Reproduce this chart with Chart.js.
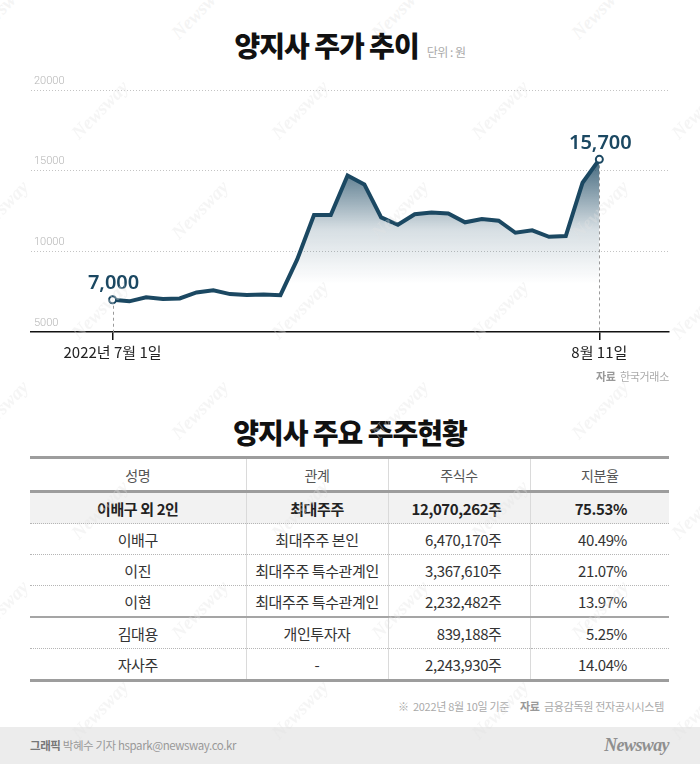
<!DOCTYPE html>
<html><head><meta charset="utf-8">
<script src="https://cdn.jsdelivr.net/npm/chart.js@4/dist/chart.umd.min.js"></script>
<style>
body{margin:0;width:700px;height:764px;background:#fff;position:relative;overflow:hidden;font-family:"Noto Sans CJK KR","Noto Sans",sans-serif;}
.abs{position:absolute;}
#t1,#t2{left:0;width:700px;text-align:center;line-height:40px;white-space:nowrap;}
#t1{top:25px;}
#t2{top:412px;}
.big{font-size:28px;font-weight:900;color:#111;letter-spacing:-1px;}
.unit{font-size:12px;color:#aaa;margin-left:8px;letter-spacing:-0.5px;}
#cw{left:0;top:60px;width:700px;height:310px;}
#src1{right:31px;top:367px;font-size:11px;color:#aaa;line-height:18px;letter-spacing:-0.3px;}
#src1 b,#note b{color:#999;font-weight:700;}
table{position:absolute;left:30px;top:456px;width:639px;border-collapse:collapse;table-layout:fixed;}
th,td{height:30px;padding:0;font-size:15px;color:#333;border-left:1px solid #dadada;border-bottom:1px dotted #b5b5b5;text-align:center;letter-spacing:-0.4px;white-space:nowrap;}
th:first-child,td:first-child{border-left:none;}
thead tr{border-top:3px solid #9d9d9d;}
thead th{height:31px;border-bottom:3px solid #9d9d9d;font-weight:400;color:#555;font-size:14px;}
tr.sum td{background:#f2f2f2;font-weight:700;color:#222;}
tr.sep td{border-bottom:2px solid #a5a5a5;}
tr.last td{border-bottom:3px solid #9d9d9d;}
td.num{text-align:right;padding-right:28px;}
td.pct{text-align:right;padding-right:42px;}
#note{right:36px;top:697px;font-size:11px;color:#aaa;line-height:18px;letter-spacing:-0.3px;white-space:nowrap;}
#foot{left:0;top:727px;width:700px;height:37px;background:#ececec;}
#foot .l{position:absolute;left:30px;top:0;line-height:37px;font-size:11.5px;color:#999;letter-spacing:-0.4px;}
#foot .l b{color:#777;}
#foot .r{position:absolute;right:31px;top:0;line-height:37px;font-size:18px;color:#8f8f8f;font-weight:700;font-style:italic;font-family:"Liberation Serif","DejaVu Serif",serif;letter-spacing:-0.6px;}
.wm{position:absolute;width:100px;height:24px;margin-left:-50px;margin-top:-12px;text-align:center;line-height:24px;font-size:19px;font-weight:700;font-style:italic;font-family:"Liberation Serif",serif;color:rgba(225,225,225,0.35);transform:rotate(-46deg);pointer-events:none;}
</style></head><body>
<div id="t1" class="abs"><span class="big">양지사 주가 추이</span><span class="unit">단위 : 원</span></div>
<div id="cw" class="abs"><canvas id="c" width="700" height="310"></canvas></div>
<div id="src1" class="abs"><b>자료</b>&nbsp; 한국거래소</div>
<div id="t2" class="abs"><span class="big">양지사 주요 주주현황</span></div>
<table id="tbl"><colgroup><col style="width:216px"><col style="width:142px"><col style="width:142px"><col style="width:139px"></colgroup>
<thead><tr id="hdr"></tr></thead><tbody id="tb"></tbody></table>
<div id="note" class="abs">※&nbsp; 2022년 8월 10일 기준 &nbsp;&nbsp;&nbsp; <b>자료</b>&nbsp; 금융감독원 전자공시시스템</div>
<div id="foot" class="abs"><span class="l"><b>그래픽</b> 박혜수 기자 hspark@newsway.co.kr</span><span class="r">Newsway</span></div>
<div id="wms"></div>
<script>
// ---- chart data ----
const tradingDays = ['07-01','07-04','07-05','07-06','07-07','07-08','07-11','07-12','07-13','07-14','07-15','07-18','07-19','07-20','07-21','07-22','07-25','07-26','07-27','07-28','07-29','08-01','08-02','08-03','08-04','08-05','08-08','08-09','08-10','08-11'];
const prices = [7000,6900,7150,7050,7080,7450,7580,7350,7300,7330,7280,9500,12250,12250,14700,14150,12100,11650,12300,12400,12350,11800,12000,11900,11150,11300,10900,10950,14250,15700];
const tickIndexes = [0, 29];
const tickLabels = ['2022년 7월 1일', '8월 11일'];
const yTicks = [5000, 10000, 15000, 20000];

// ---- table data ----
const tableHeaders = ['성명','관계','주식수','지분율'];
const holderNames = ['이배구 외 2인','이배구','이진','이현','김대용','자사주'];
const holderRelations = ['최대주주','최대주주 본인','최대주주 특수관계인','최대주주 특수관계인','개인투자자','-'];
const holderShares = [12070262,6470170,3367610,2232482,839188,2243930];
const holderRatios = [75.53,40.49,21.07,13.97,5.25,14.04];

// build table
const hdr = document.getElementById('hdr');
tableHeaders.forEach(h => { const th = document.createElement('th'); th.textContent = h; hdr.appendChild(th); });
const tb = document.getElementById('tb');
holderNames.forEach((n, i) => {
  const tr = document.createElement('tr');
  if (i === 0) tr.className = 'sum';
  if (i === 3) tr.className = 'sep';
  if (i === holderNames.length - 1) tr.className = 'last';
  const cells = [
    [n, ''],
    [holderRelations[i], ''],
    [holderShares[i].toLocaleString('en-US') + '주', 'num'],
    [holderRatios[i].toFixed(2) + '%', 'pct']
  ];
  cells.forEach(([t, cls]) => { const td = document.createElement('td'); td.textContent = t; if (cls) td.className = cls; tr.appendChild(td); });
  tb.appendChild(tr);
});

// watermark
const wms = document.getElementById('wms');
for (let r = 0; r <= 8; r++) {
  for (let k = 0; k <= 4; k++) {
    const x = (r % 2 === 0 ? 0 : 100) + 200 * k;
    const y = 100 * r + 10;
    const d = document.createElement('div');
    d.className = 'wm'; d.textContent = 'Newsway';
    d.style.left = x + 'px'; d.style.top = y + 'px';
    wms.appendChild(d);
  }
}

const LINE = '#1b4862';
const markerPlugin = {
  id: 'markers',
  beforeDatasetsDraw(chart) {
    const meta = chart.getDatasetMeta(0);
    const c = chart.ctx;
    const bottom = chart.chartArea.bottom;
    c.save();
    c.strokeStyle = '#9a9a9a'; c.lineWidth = 1; c.setLineDash([3, 3]);
    tickIndexes.forEach(i => {
      const p = meta.data[i];
      c.beginPath(); c.moveTo(Math.round(p.x) + 0.5, p.y); c.lineTo(Math.round(p.x) + 0.5, bottom); c.stroke();
    });
    c.restore();
  },
  afterDatasetsDraw(chart) {
    const meta = chart.getDatasetMeta(0);
    const c = chart.ctx;
    c.save();
    c.fillStyle = LINE;
    c.font = '600 20px "Noto Sans", "Noto Sans CJK KR", sans-serif';
    c.textAlign = 'center'; c.textBaseline = 'middle';
    tickIndexes.forEach(i => {
      const p = meta.data[i];
      c.fillText(prices[i].toLocaleString('en-US'), p.x + 1, p.y - 16);
    });
    c.restore();
  }
};

new Chart(document.getElementById('c'), {
  type: 'line',
  data: {
    labels: tradingDays,
    datasets: [{
      data: prices.map((v, i) => ({ x: i, y: v })),
      borderColor: LINE,
      borderWidth: 4,
      tension: 0,
      fill: 'start',
      backgroundColor: (ctx) => {
        const chart = ctx.chart;
        const area = chart.chartArea;
        if (!area) return 'rgba(0,0,0,0)';
        const ys = chart.scales.y;
        const g = chart.ctx.createLinearGradient(0, ys.getPixelForValue(15500), 0, ys.getPixelForValue(8000));
        g.addColorStop(0, 'rgba(27,72,98,0.80)');
        g.addColorStop(0.55, 'rgba(27,72,98,0.18)');
        g.addColorStop(1, 'rgba(27,72,98,0)');
        return g;
      },
      pointRadius: (ctx) => tickIndexes.includes(ctx.dataIndex) ? 3.5 : 0,
      pointHoverRadius: 0,
      pointBackgroundColor: '#fff',
      pointBorderColor: LINE,
      pointBorderWidth: 2
    }]
  },
  options: {
    responsive: false,
    animation: false,
    events: [],
    layout: { padding: { left: 25, right: 31, top: 30, bottom: 6 } },
    plugins: { legend: { display: false }, tooltip: { enabled: false } },
    scales: {
      x: {
        type: 'linear', min: -4.86, max: 33.15,
        afterBuildTicks: (s) => { s.ticks = tickIndexes.map(v => ({ value: v })); },
        ticks: {
          autoSkip: false, maxRotation: 0, padding: 3, color: '#222',
          font: { size: 15, family: '"Noto Sans CJK KR", sans-serif' },
          callback: (v) => { const k = tickIndexes.indexOf(v); return k >= 0 ? tickLabels[k] : ''; }
        },
        grid: { drawOnChartArea: false, drawTicks: true, tickLength: 8, color: '#111', lineWidth: 1.5 },
        border: { display: true, color: '#111', width: 1.5 }
      },
      y: {
        min: 5000, max: 20000,
        afterBuildTicks: (s) => { s.ticks = yTicks.map(v => ({ value: v })); },
        ticks: {
          mirror: true, padding: 3, labelOffset: -9, color: '#b5b5b5',
          font: { size: 11, family: 'Roboto, sans-serif', weight: '300' },
          callback: (v) => String(v)
        },
        grid: { drawTicks: false, lineWidth: 1, color: (ctx) => (ctx.tick && ctx.tick.value === 5000) ? 'rgba(0,0,0,0)' : '#c4c4c4' },
        border: { display: false, dash: [1, 2] }
      }
    }
  },
  plugins: [markerPlugin]
});
</script>
</body></html>
